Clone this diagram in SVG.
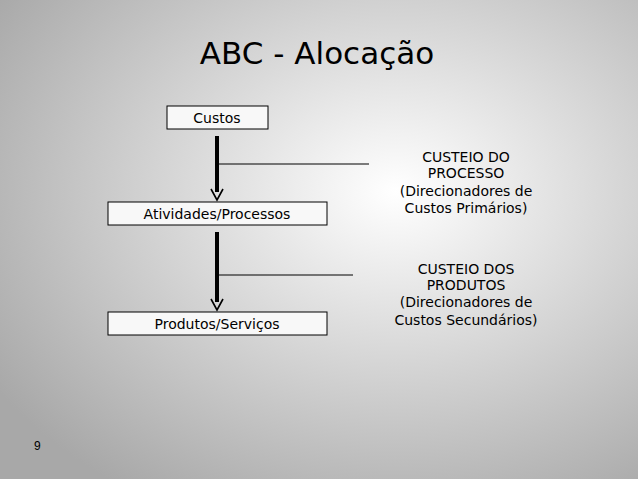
<svg xmlns="http://www.w3.org/2000/svg" width="638" height="479" viewBox="0 0 638 479">
<defs>
<radialGradient id="bg" cx="0.62" cy="0.4" r="0.75">
<stop offset="0" stop-color="#ffffff"/><stop offset="1" stop-color="#a8a8a8"/>
</radialGradient>
</defs>
<style>
text{font-family:"Comic Sans MS","DejaVu Sans",sans-serif;fill:#000}
.box{fill:#f8f8f8;stroke:#000;stroke-width:1}
.lbl{font-size:14px;text-anchor:middle}
.rt{font-size:14px;text-anchor:middle}
.thin{stroke:#000;stroke-width:1}
.thick{stroke:#000;stroke-width:4}
.head{fill:none;stroke:#000;stroke-width:1.6}
</style>
<rect width="638" height="479" fill="url(#bg)"/>
<text x="317" y="64" font-size="31" text-anchor="middle">ABC - Alocação</text>
<g id="custos"><rect class="box" x="167" y="106" width="101" height="23"/><text class="lbl" x="217" y="123">Custos</text></g>
<g id="atividades"><rect class="box" x="108" y="202" width="219" height="23"/><text class="lbl" x="217" y="219">Atividades/Processos</text></g>
<g id="produtos"><rect class="box" x="108" y="312" width="219" height="23"/><text class="lbl" x="217" y="329">Produtos/Serviços</text></g>
<g id="connectors">
<line class="thick" x1="217" y1="136" x2="217" y2="192"/>
<path class="head" d="M211,189 L217,200 L223,189"/>
<line class="thin" x1="219" y1="164" x2="369" y2="164"/>
<line class="thick" x1="217" y1="232" x2="217" y2="302"/>
<path class="head" d="M211,299 L217,310 L223,299"/>
<line class="thin" x1="219" y1="275" x2="353" y2="275"/>
</g>
<g id="custeio-processo">
<text class="rt" x="466" y="162">CUSTEIO DO</text>
<text class="rt" x="466" y="178">PROCESSO</text>
<text class="rt" x="466" y="196">(Direcionadores de</text>
<text class="rt" x="466" y="213">Custos Primários)</text>
</g>
<g id="custeio-produtos">
<text class="rt" x="466" y="274">CUSTEIO DOS</text>
<text class="rt" x="466" y="290">PRODUTOS</text>
<text class="rt" x="466" y="307">(Direcionadores de</text>
<text class="rt" x="466" y="325">Custos Secundários)</text>
</g>
<text x="34" y="450" font-size="12" style="font-family:'Liberation Sans',sans-serif">9</text>
</svg>
